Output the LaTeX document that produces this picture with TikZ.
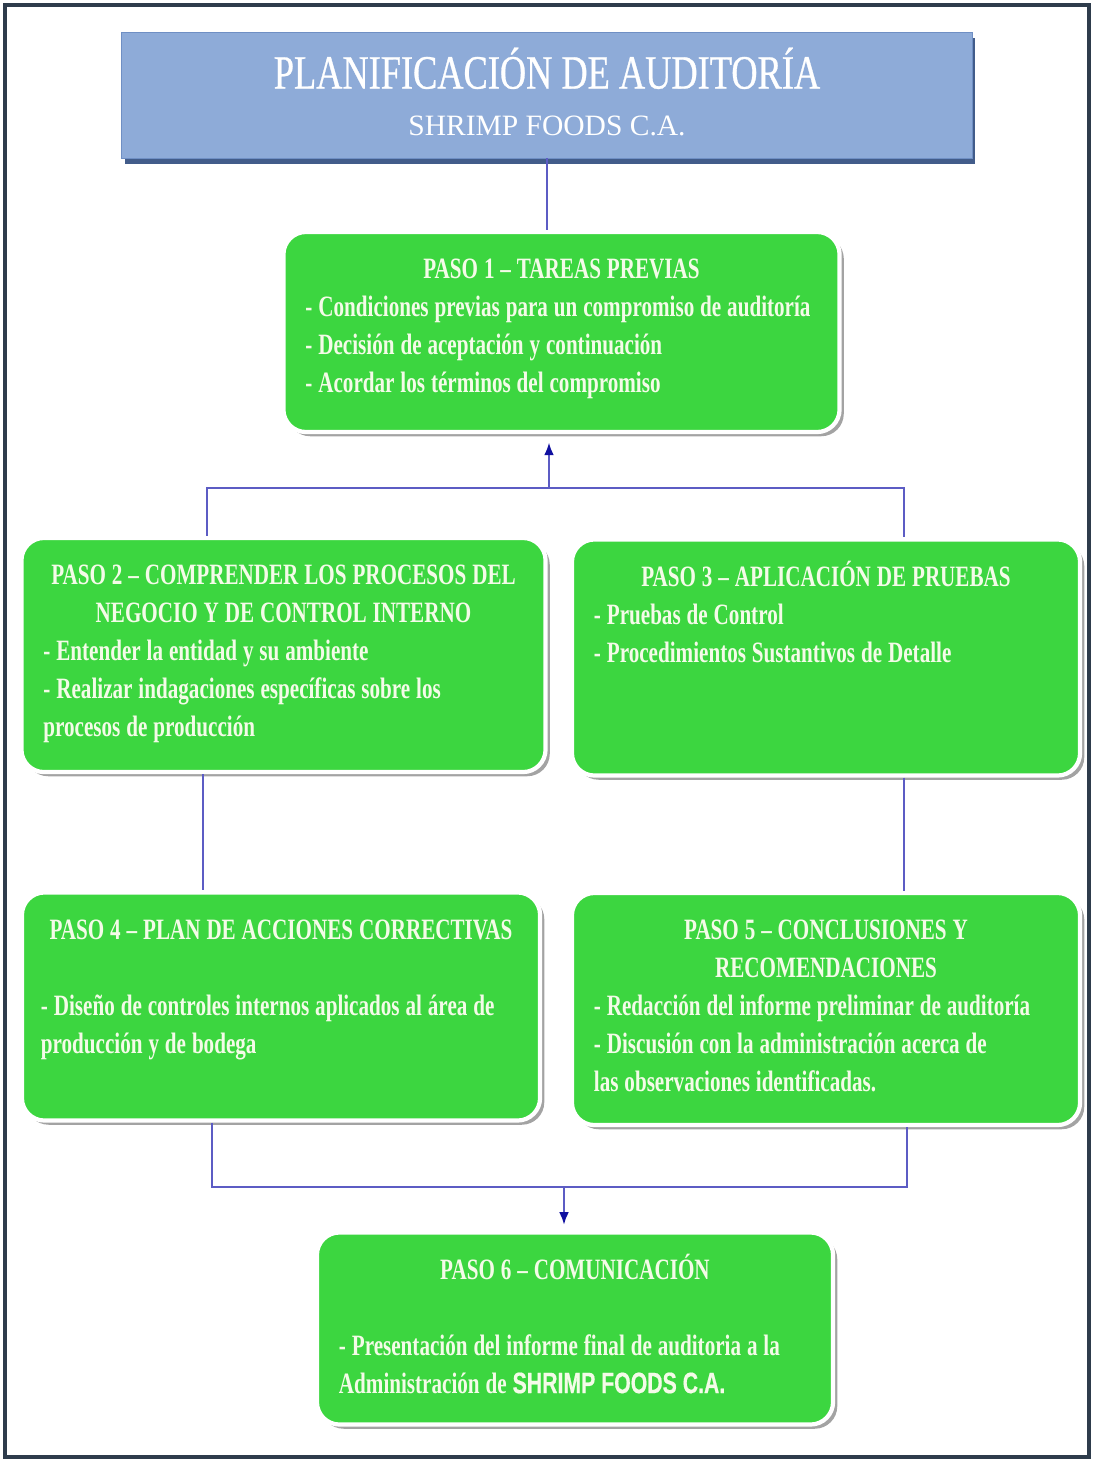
\documentclass[tikz,border=0pt]{standalone}
\usepackage{fontspec}
\setmainfont{Liberation Serif}
\newfontfamily\headfont[FakeStretch=0.76, FakeBold=0.6]{Liberation Serif}
\newfontfamily\subfont{Liberation Serif}
\newfontfamily\stepfont[FakeStretch=0.715]{Liberation Serif Bold}
\newfontfamily\brandfont[FakeStretch=0.72, FakeBold=0.5]{Liberation Sans Bold}
\newcommand\stepspacing{\parindent=0pt\spaceskip=0.2em plus 0.05em\relax}
\usetikzlibrary{arrows.meta,calc,positioning,shadows}
\definecolor{StepGreen}{HTML}{3CD640}
\definecolor{Cream}{HTML}{F4FBE8}
\definecolor{HeadBlue}{HTML}{8EABD8}
\definecolor{HeadLine}{HTML}{6F8FC4}
\definecolor{HeadEdge}{HTML}{2E4A7D}
\definecolor{LinkBlue}{HTML}{5C5CC4}
\definecolor{TipBlue}{HTML}{1010A0}
\definecolor{FrameInk}{HTML}{2E3C4C}
\definecolor{Shade}{HTML}{8C8C8C}

\tikzset{
  headbox/.style={fill=HeadBlue, draw=HeadLine, line width=0.6pt,
    drop shadow={shadow xshift=2pt, shadow yshift=-4pt, fill=HeadEdge, opacity=0.9}},
  headtitle/.style={inner sep=0pt, text=white, font=\headfont\fontsize{34}{40}\selectfont},
  headsub/.style={inner sep=0pt, text=white, font=\subfont\fontsize{21}{24}\selectfont},
  stepbox/.style={rounded corners=16pt, fill=StepGreen, draw=white, line width=3pt,
    drop shadow={shadow xshift=3pt, shadow yshift=-3pt, fill=Shade, opacity=0.8}},
  steptext/.style={inner sep=0pt, align=left, text=Cream,
    font=\stepfont\fontsize{21}{27}\selectfont, execute at begin node=\stepspacing},
  link/.style={draw=LinkBlue, line width=1.4pt},
  tip/.style={-{Latex[length=9pt,width=7pt,color=TipBlue]}}
}

\begin{document}
\begin{tikzpicture}[x=0.025cm, y=-0.025cm]
  \useasboundingbox (0,0) rectangle (1093,1461);
  \draw[FrameInk, line width=0.1cm] (5,5) rectangle (1089,1457);

  % cabecera
  \node[headbox, minimum width=21.25cm, minimum height=3.15cm] (hdr) at (547,95) {};
  \node[headtitle, anchor=base] (htitle) at ([yshift=-1.425cm]hdr.north) {PLANIFICACIÓN DE AUDITORÍA};
  \node[headsub, anchor=base] (hsub) at ([yshift=-2.6cm]hdr.north) {SHRIMP FOODS C.A.};

  % pasos
  \node[stepbox, minimum width=13.9cm, minimum height=5cm] (p1) at (561.5,332) {};
  \node[stepbox, minimum width=13.1cm, minimum height=5.85cm] (p2) at (283.5,655) {};
  \node[stepbox, minimum width=12.7cm, minimum height=5.9cm] (p3) at (826,657.5) {};
  \node[stepbox, minimum width=12.95cm, minimum height=5.7cm] (p4) at (281,1006.5) {};
  \node[stepbox, minimum width=12.7cm, minimum height=5.8cm] (p5) at (826,1009) {};
  \node[stepbox, minimum width=12.9cm, minimum height=4.8cm] (p6) at (575,1328.5) {};

  \node[steptext, text width=12.8cm, below=0.55cm of p1.north] (p1t) {%
    {\centering\strut PASO 1 – TAREAS PREVIAS\par}
    - Condiciones previas para un compromiso de auditoría\\
    - Decisión de aceptación y continuación\\
    - Acordar los términos del compromiso};
  \node[steptext, text width=12.0cm, below=0.55cm of p2.north] (p2t) {%
    {\centering\strut PASO 2 – COMPRENDER LOS PROCESOS DEL\\ NEGOCIO Y DE CONTROL INTERNO\par}
    - Entender la entidad y su ambiente\\
    - Realizar indagaciones específicas sobre los\\
    procesos de producción};
  \node[steptext, text width=11.6cm, below=0.55cm of p3.north] (p3t) {%
    {\centering\strut PASO 3 – APLICACIÓN DE PRUEBAS\par}
    - Pruebas de Control\\
    - Procedimientos Sustantivos de Detalle};
  \node[steptext, text width=12.0cm, below=0.55cm of p4.north] (p4t) {%
    {\centering\strut PASO 4 – PLAN DE ACCIONES CORRECTIVAS\par}
    \vspace{\baselineskip}
    - Diseño de controles internos aplicados al área de\\
    producción y de bodega};
  \node[steptext, text width=11.6cm, below=0.55cm of p5.north] (p5t) {%
    {\centering\strut PASO 5 – CONCLUSIONES Y\\ RECOMENDACIONES\par}
    - Redacción del informe preliminar de auditoría\\
    - Discusión con la administración acerca de\\
    las observaciones identificadas.};
  \node[steptext, text width=11.8cm, below=0.55cm of p6.north] (p6t) {%
    {\centering\strut PASO 6 – COMUNICACIÓN\par}
    \vspace{\baselineskip}
    - Presentación del informe final de auditoria a la\\
    Administración de {\brandfont SHRIMP FOODS C.A.}};

  % conectores
  \coordinate (j1) at (549,488);
  \coordinate (j2) at (564,1187);
  \coordinate (a2) at ([xshift=-2.01cm]p2.south);
  \coordinate (a3) at ([xshift=1.95cm]p3.south);
  \coordinate (b4) at ([xshift=-1.725cm]p4.south);
  \coordinate (b5) at ([xshift=2.025cm]p5.south);

  \draw[link] (hdr.south) -- (hdr.south |- p1.north);
  \draw[link, tip, shorten >=6pt] (j1) -- (j1 |- p1.south);
  \draw[link] ([xshift=-1.91cm]p2.north) |- (j1) -| ([xshift=1.95cm]p3.north);
  \draw[link] (a2) -- (a2 |- p4.north);
  \draw[link] (a3) -- (a3 |- p5.north);
  \draw[link] (b4) |- (j2) -| (b5);
  \draw[link, tip, shorten >=4pt] (j2) -- (j2 |- p6.north);
\end{tikzpicture}
\end{document}
